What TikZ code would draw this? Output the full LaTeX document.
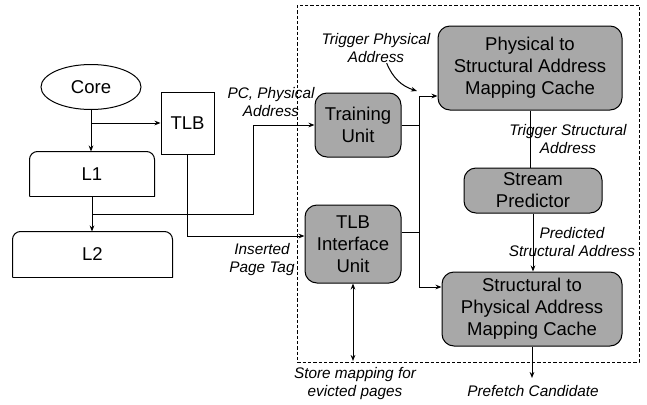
\documentclass[tikz,border=0pt]{standalone}
\usepackage{fontspec}
\setmainfont{Liberation Sans}
\usetikzlibrary{shapes.geometric,arrows.meta}
\definecolor{boxgray}{HTML}{A8A8A8}

\begin{document}
\begin{tikzpicture}[x=0.75pt,y=-0.75pt,
  >={Stealth[length=4.5pt,width=3.5pt]},
  line width=0.75pt,
  unit/.style={draw,fill=boxgray,rounded corners=9pt,align=center,inner sep=2pt,
    font=\fontsize{13.9}{16.5}\selectfont},
  plain/.style={draw,align=center,font=\fontsize{13.9}{16.5}\selectfont},
  cache/.style={align=center,font=\fontsize{13.9}{16.5}\selectfont},
  lbl/.style={align=center,inner sep=0pt,font=\fontsize{11.5}{13.5}\selectfont\itshape}]
\useasboundingbox (0,0) rectangle (647,404);
% prefetcher boundary
\draw[dash pattern=on 2.5pt off 1.5pt,line width=0.6pt] (297,5) rectangle (639,362);

% core side
\node[plain,ellipse,minimum width=75pt,minimum height=33.75pt] (core) at (91,87) {Core};
\node[plain,minimum width=39.75pt,minimum height=46.5pt] (tlb) at (187.5,123) {TLB};
\node[cache,minimum width=93pt,minimum height=33pt] (l1) at (92,174) {L1};
\node[cache,minimum width=119.25pt,minimum height=33.75pt] (l2) at (92.5,254.5) {L2};
\foreach \c in {l1,l2}{
  \draw[rounded corners=6pt] (\c.south west) -- (\c.north west) -- (\c.north east) -- (\c.south east);
  \draw (\c.south west) -- (\c.south east);
}

% prefetcher units
\node[unit,minimum width=64.5pt,minimum height=48pt] (train) at (358,125) {Training\\Unit};
\node[unit,minimum width=72pt,minimum height=58.5pt] (tlbif) at (353,244) {TLB\\Interface\\Unit};
\node[unit,minimum width=138pt,minimum height=63pt] (pscache) at (530,68) {Physical to\\Structural Address\\Mapping Cache};
\node[unit,minimum width=103.5pt,minimum height=33.75pt] (stream) at (533,190.5) {Stream\\Predictor};
\node[unit,minimum width=135pt,minimum height=55.5pt] (spcache) at (532,309) {Structural to\\Physical Address\\Mapping Cache};

% labels
\node[lbl] (pcpa) at (271,102) {PC, Physical\\Address};
\node[lbl] (ipt) at (262,260) {Inserted\\Page Tag};
\node[lbl] (tpa) at (376,48) {Trigger Physical\\Address};
\node[lbl] (tsa) at (568,139) {Trigger Structural\\Address};
\node[lbl] (psa) at (572,242) {Predicted\\Structural Address};
\node[lbl] (smap) at (355,384) {Store mapping for\\evicted pages};
\node[lbl] (pfc) at (533,391) {Prefetch Candidate};

% connectors
\coordinate (cbr) at (core.south |- tlb.west);
\coordinate (lbr) at (92,214);
\coordinate (bus) at (419,125);
\coordinate (tpaend) at (417,91);
\coordinate (pfend) at (532,378);
\coordinate (smend) at (353,361);
\draw[->] (core.south) -- (core.south |- l1.north);
\draw[->] (cbr) -- (tlb.west);
\draw[->] (l1.south) -- (l1.south |- l2.north);
\draw[->] (lbr) -- ++(161,0) |- (train.west);
\draw[->] (tlb.south) |- ([yshift=6pt]tlbif.west);
\draw (train.east) -- (bus);
\draw ([yshift=9pt]tlbif.east) -- ++(18,0);
\draw[->] (bus) |- ([yshift=-21pt]pscache.west);
\draw[->] (bus) |- ([yshift=16.5pt]spcache.west);
\draw (pscache.south) -- (pscache.south |- stream.north);
\draw[->] (stream.south) -- (stream.south |- spcache.north);
\draw[->] (spcache.south) -- (pfend);
\draw[<->] (tlbif.south) -- (smend);
\draw[->] ([xshift=8pt]tpa.south) to[bend right=25] (tpaend);
\end{tikzpicture}
\end{document}
